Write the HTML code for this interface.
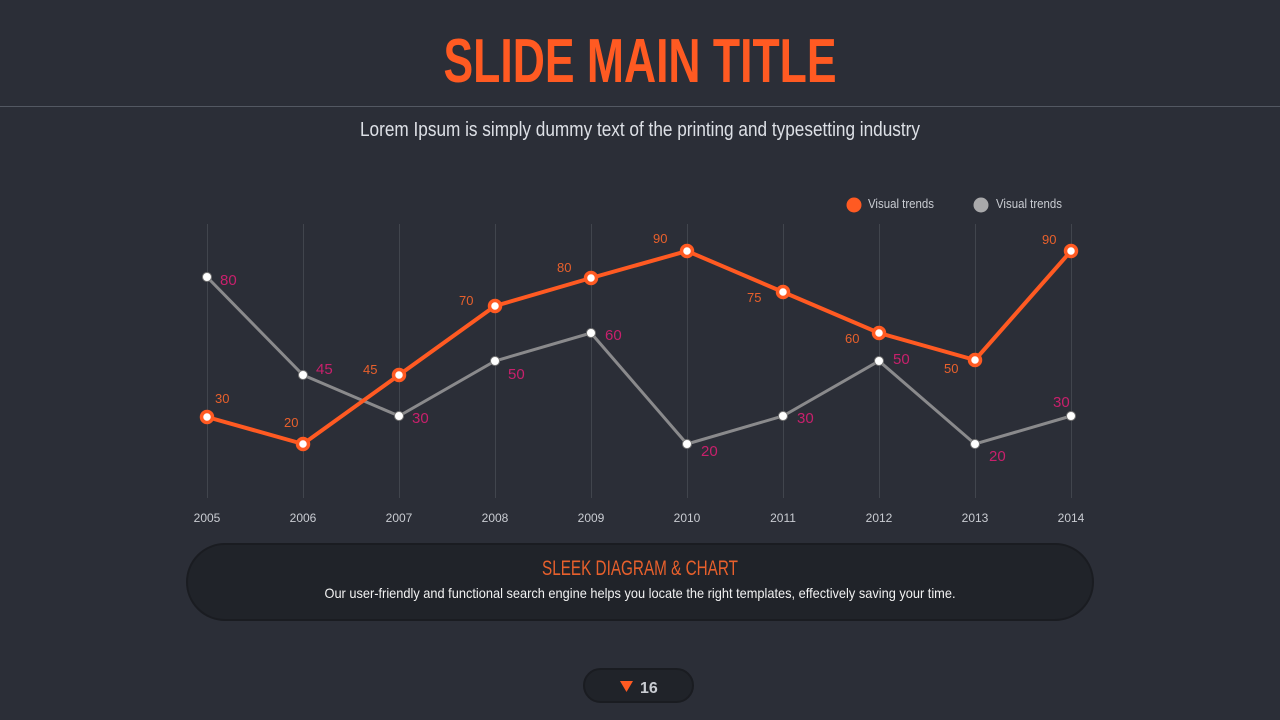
<!DOCTYPE html>
<html><head><meta charset="utf-8"><style>
html,body{margin:0;padding:0;background:#2b2e37;}
svg{display:block}
text{font-family:"Liberation Sans",sans-serif}
</style></head><body>
<svg width="1280" height="720" viewBox="0 0 1280 720">
<rect width="1280" height="720" fill="#2b2e37"/>
<text x="640" y="82" text-anchor="middle" font-size="62" font-weight="bold" fill="#ff5a22" textLength="393" lengthAdjust="spacingAndGlyphs">SLIDE MAIN TITLE</text>
<line x1="0" y1="106.5" x2="1280" y2="106.5" stroke="#535862" stroke-width="1"/>
<text x="640" y="136" text-anchor="middle" font-size="20" fill="#dde0e6" textLength="560" lengthAdjust="spacingAndGlyphs">Lorem Ipsum is simply dummy text of the printing and typesetting industry</text>
<circle cx="854" cy="205" r="7.5" fill="#ff5a22"/>
<text x="868" y="208" font-size="13" fill="#c9ccd2" textLength="66" lengthAdjust="spacingAndGlyphs">Visual trends</text>
<circle cx="981" cy="205" r="7.5" fill="#a9a9ab"/>
<text x="996" y="208" font-size="13" fill="#c9ccd2" textLength="66" lengthAdjust="spacingAndGlyphs">Visual trends</text>
<g stroke="#41454d" stroke-width="1">
<line x1="207.5" y1="224" x2="207.5" y2="498"/><line x1="303.5" y1="224" x2="303.5" y2="498"/><line x1="399.5" y1="224" x2="399.5" y2="498"/><line x1="495.5" y1="224" x2="495.5" y2="498"/><line x1="591.5" y1="224" x2="591.5" y2="498"/><line x1="687.5" y1="224" x2="687.5" y2="498"/><line x1="783.5" y1="224" x2="783.5" y2="498"/><line x1="879.5" y1="224" x2="879.5" y2="498"/><line x1="975.5" y1="224" x2="975.5" y2="498"/><line x1="1071.5" y1="224" x2="1071.5" y2="498"/>
</g>
<g font-size="12" fill="#c9ccd2" text-anchor="middle">
<text x="207" y="522">2005</text><text x="303" y="522">2006</text><text x="399" y="522">2007</text><text x="495" y="522">2008</text><text x="591" y="522">2009</text><text x="687" y="522">2010</text><text x="783" y="522">2011</text><text x="879" y="522">2012</text><text x="975" y="522">2013</text><text x="1071" y="522">2014</text>
</g>
<polyline fill="none" stroke="#8a8a8c" stroke-width="3" points="207,277 303,375 399,416 495,361 591,333 687,444 783,416 879,361 975,444 1071,416"/>
<g fill="#fff" stroke="#777" stroke-width="1">
<circle cx="207" cy="277" r="4.5"/><circle cx="303" cy="375" r="4.5"/><circle cx="399" cy="416" r="4.5"/><circle cx="495" cy="361" r="4.5"/><circle cx="591" cy="333" r="4.5"/><circle cx="687" cy="444" r="4.5"/><circle cx="783" cy="416" r="4.5"/><circle cx="879" cy="361" r="4.5"/><circle cx="975" cy="444" r="4.5"/><circle cx="1071" cy="416" r="4.5"/>
</g>
<polyline fill="none" stroke="#ff5a22" stroke-width="4" points="207,417 303,444 399,375 495,306 591,278 687,251 783,292 879,333 975,360 1071,251"/>
<g fill="#fff" stroke="#ff5a22" stroke-width="3.5">
<circle cx="207" cy="417" r="5.5"/><circle cx="303" cy="444" r="5.5"/><circle cx="399" cy="375" r="5.5"/><circle cx="495" cy="306" r="5.5"/><circle cx="591" cy="278" r="5.5"/><circle cx="687" cy="251" r="5.5"/><circle cx="783" cy="292" r="5.5"/><circle cx="879" cy="333" r="5.5"/><circle cx="975" cy="360" r="5.5"/><circle cx="1071" cy="251" r="5.5"/>
</g>
<g font-size="13" fill="#e8602c">
<text x="215" y="403">30</text><text x="284" y="427">20</text><text x="363" y="374">45</text><text x="459" y="305">70</text><text x="557" y="272">80</text><text x="653" y="243">90</text><text x="747" y="302">75</text><text x="845" y="343">60</text><text x="944" y="373">50</text><text x="1042" y="244">90</text>
</g>
<g font-size="15" fill="#c8206c">
<text x="220" y="285">80</text><text x="316" y="374">45</text><text x="412" y="423">30</text><text x="508" y="379">50</text><text x="605" y="340">60</text><text x="701" y="456">20</text><text x="797" y="423">30</text><text x="893" y="364">50</text><text x="989" y="461">20</text><text x="1053" y="407">30</text>
</g>
<rect x="187" y="544" width="906" height="76" rx="38" fill="#202329" stroke="#1a1c21" stroke-width="2"/>
<text x="640" y="575" text-anchor="middle" font-size="21" fill="#e8602c" textLength="196" lengthAdjust="spacingAndGlyphs">SLEEK DIAGRAM &amp; CHART</text>
<text x="640" y="598" text-anchor="middle" font-size="14" fill="#f2f2f2" textLength="631" lengthAdjust="spacingAndGlyphs">Our user-friendly and functional search engine helps you locate the right templates, effectively saving your time.</text>
<rect x="584" y="669" width="109" height="33" rx="16.5" fill="#202329" stroke="#1a1c21" stroke-width="2"/>
<polygon points="620,681 633,681 626.5,692" fill="#ff5a22"/>
<text x="640" y="693" font-size="16" font-weight="bold" fill="#c9ccd2">16</text>
</svg>
</body></html>
